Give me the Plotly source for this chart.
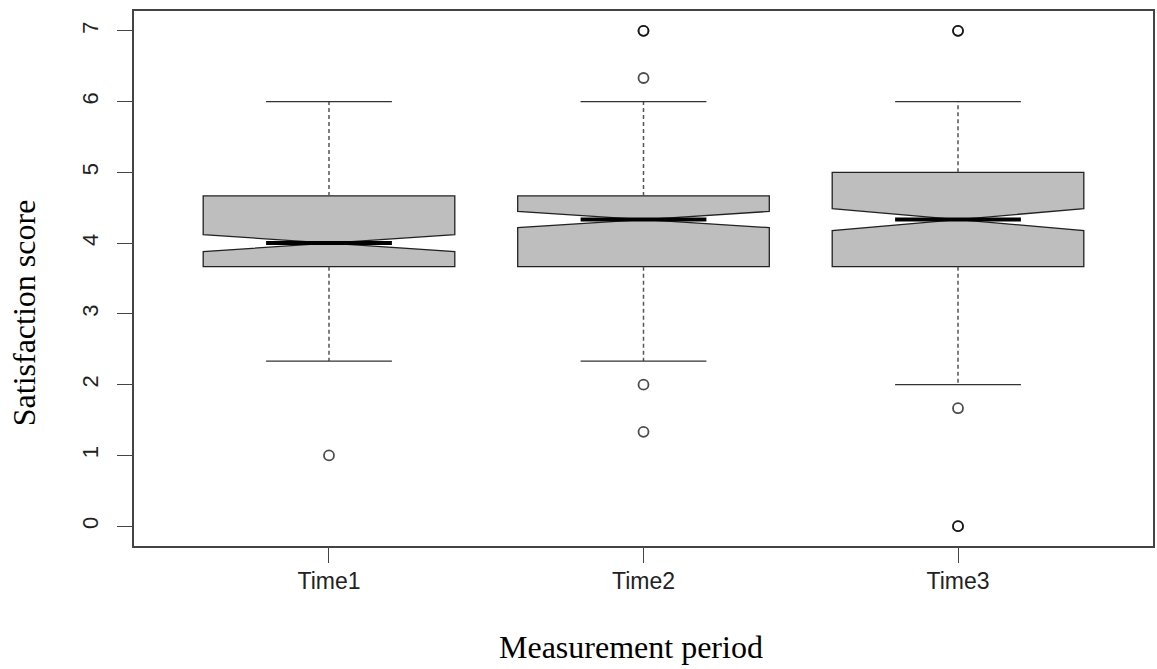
import plotly.graph_objects as go

# ---- data ----
categories = ["Time1", "Time2", "Time3"]
positions = [1, 2, 3]
q1 = [3.667, 3.667, 3.667]
median = [4.0, 4.333, 4.333]
q3 = [4.667, 4.667, 5.0]
lower_whisker = [2.333, 2.333, 2.0]
upper_whisker = [6.0, 6.0, 6.0]
notch_half = [0.12, 0.115, 0.155]
outliers = {
    "Time1": [1.0],
    "Time2": [7.0, 7.0, 6.333, 2.0, 1.333],
    "Time3": [7.0, 7.0, 1.667, 0.0, 0.0],
}
y_ticks = [0, 1, 2, 3, 4, 5, 6, 7]

BOX_W = 0.8
CAP_W = 0.4
FILL = "#bebebe"

fig = go.Figure()

# whiskers (dashed) and caps (solid), drawn in data coordinates
wx, wy, cx, cy = [], [], [], []
for p, a, b, lo, hi in zip(positions, q1, q3, lower_whisker, upper_whisker):
    wx += [p, p, None, p, p, None]
    wy += [b, hi, None, a, lo, None]
    cx += [p - CAP_W / 2, p + CAP_W / 2, None, p - CAP_W / 2, p + CAP_W / 2, None]
    cy += [hi, hi, None, lo, lo, None]

fig.add_trace(go.Scatter(x=wx, y=wy, mode="lines",
                         line=dict(color="#555555", width=1.5, dash="4px,3px"),
                         hoverinfo="skip", showlegend=False))
fig.add_trace(go.Scatter(x=cx, y=cy, mode="lines",
                         line=dict(color="#333333", width=1.4),
                         hoverinfo="skip", showlegend=False))

# notched boxes
fig.add_trace(go.Box(
    x=positions, q1=q1, median=median, q3=q3,
    lowerfence=q1, upperfence=q3,
    notchspan=notch_half, notched=True, notchwidth=0.5,
    width=BOX_W, whiskerwidth=0,
    fillcolor=FILL, line=dict(color="#222222", width=1.3),
    boxpoints=False, hoverinfo="skip", showlegend=False,
))

# thick median lines
mx, my = [], []
for p, m in zip(positions, median):
    mx += [p - BOX_W / 4, p + BOX_W / 4, None]
    my += [m, m, None]
fig.add_trace(go.Scatter(x=mx, y=my, mode="lines",
                         line=dict(color="black", width=4),
                         hoverinfo="skip", showlegend=False))

# outliers
ox, oy = [], []
for p, c in zip(positions, categories):
    for v in outliers[c]:
        ox.append(p)
        oy.append(v)
fig.add_trace(go.Scatter(x=ox, y=oy, mode="markers",
                         marker=dict(symbol="circle-open", size=10,
                                     color="rgba(0,0,0,0.7)",
                                     line=dict(width=1.8, color="rgba(0,0,0,0.7)")),
                         hoverinfo="skip", showlegend=False))

fig.update_layout(
    width=1157, height=669,
    margin=dict(l=134, r=2, t=11, b=123),
    paper_bgcolor="white", plot_bgcolor="white",
    showlegend=False,
    xaxis=dict(
        range=[0.38, 3.62], tickmode="array", tickvals=positions, ticktext=categories,
        showgrid=False, zeroline=False,
        showline=True, mirror=True, linecolor="#444444", linewidth=1.5,
        ticks="outside", ticklen=15, tickwidth=1.3, tickcolor="#444444",
        tickfont=dict(family="Liberation Sans, Arial", size=23, color="#222222"),
        ticklabelstandoff=-1,
    ),
    yaxis=dict(
        range=[-0.28, 7.28], tickmode="array", tickvals=y_ticks,
        ticktext=[str(t) for t in y_ticks], tickangle=-90,
        showgrid=False, zeroline=False,
        showline=True, mirror=True, linecolor="#444444", linewidth=1.5,
        ticks="outside", ticklen=15, tickwidth=1.3, tickcolor="#444444",
        tickfont=dict(family="Liberation Sans, Arial", size=22, color="#222222"),
        ticklabelstandoff=10,
    ),
    annotations=[
        dict(text="Measurement period", xref="paper", yref="paper",
             x=0.4873, y=-0.1888, xanchor="center", yanchor="middle",
             showarrow=False,
             font=dict(family="Liberation Serif, Times New Roman", size=32, color="black")),
        dict(text="Satisfaction score", xref="paper", yref="paper",
             x=-0.1077, y=0.4355, xanchor="center", yanchor="middle",
             textangle=-90, showarrow=False,
             font=dict(family="Liberation Serif, Times New Roman", size=32, color="black")),
    ],
)

fig.write_html("out.html", config={"displayModeBar": False},
               post_script="document.body.style.margin='0px';")
